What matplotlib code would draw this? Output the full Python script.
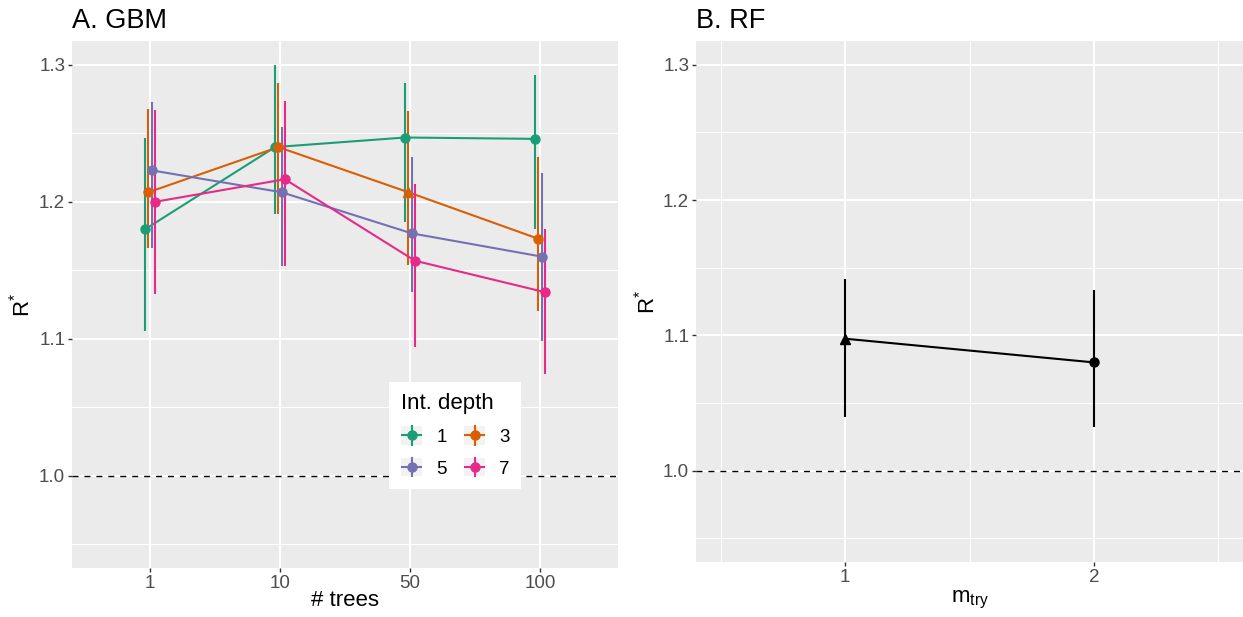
import matplotlib
matplotlib.use("Agg")
import matplotlib.pyplot as plt
from matplotlib.lines import Line2D
from matplotlib.patches import Rectangle
from matplotlib.legend_handler import HandlerBase
import numpy as np

plt.rcParams['font.family'] = ['Liberation Sans', 'DejaVu Sans']
plt.rcParams['mathtext.fontset'] = 'custom'
plt.rcParams['mathtext.rm'] = 'Liberation Sans'
plt.rcParams['mathtext.it'] = 'Liberation Sans'
plt.rcParams['lines.scale_dashes'] = False

# ---------------- data ----------------
trees = ["1", "10", "50", "100"]
depths = ["1", "3", "5", "7"]
depth_colors = ["#1B9E77", "#D95F02", "#7570B3", "#E7298A"]

gbm_mean_d1 = [1.180, 1.240, 1.247, 1.246]
gbm_mean_d3 = [1.207, 1.240, 1.207, 1.173]
gbm_mean_d5 = [1.223, 1.207, 1.177, 1.160]
gbm_mean_d7 = [1.200, 1.2165, 1.157, 1.134]

gbm_lo_d1 = [1.106, 1.191, 1.185, 1.180]
gbm_lo_d3 = [1.166, 1.191, 1.154, 1.120]
gbm_lo_d5 = [1.166, 1.153, 1.134, 1.0985]
gbm_lo_d7 = [1.133, 1.153, 1.094, 1.074]

gbm_hi_d1 = [1.247, 1.300, 1.287, 1.293]
gbm_hi_d3 = [1.268, 1.2865, 1.266, 1.233]
gbm_hi_d5 = [1.273, 1.255, 1.233, 1.221]
gbm_hi_d7 = [1.267, 1.2735, 1.213, 1.180]

gbm_shape_d1 = ["o", "o", "o", "o"]
gbm_shape_d3 = ["o", "o", "^", "o"]
gbm_shape_d5 = ["o", "o", "o", "o"]
gbm_shape_d7 = ["o", "o", "o", "o"]

rf_mtry = [1, 2]
rf_mean = [1.0975, 1.080]
rf_lo = [1.040, 1.032]
rf_hi = [1.1416, 1.1333]
rf_shape = ["^", "o"]

gbm_means = [gbm_mean_d1, gbm_mean_d3, gbm_mean_d5, gbm_mean_d7]
gbm_los = [gbm_lo_d1, gbm_lo_d3, gbm_lo_d5, gbm_lo_d7]
gbm_his = [gbm_hi_d1, gbm_hi_d3, gbm_hi_d5, gbm_hi_d7]
gbm_shapes = [gbm_shape_d1, gbm_shape_d3, gbm_shape_d5, gbm_shape_d7]

# ---------------- style ----------------
W, H = 1243, 617
BG = "#EBEBEB"
LW = 1.5
MS = 6.5
TICK_FS = 13.5
LAB_FS = 16
TITLE_FS = 19.5

fig = plt.figure(figsize=(W / 100, H / 100), dpi=100)
fig.patch.set_facecolor("white")


def px_axes(x0, x1, y0, y1):
    return fig.add_axes([x0 / W, (H - y1) / H, (x1 - x0) / W, (y1 - y0) / H])


def style_axes(ax):
    ax.set_facecolor(BG)
    for s in ax.spines.values():
        s.set_visible(False)
    ax.set_ylim(0.9325, 1.3175)
    ax.set_yticks([1.0, 1.1, 1.2, 1.3])
    ax.set_yticklabels(["1.0", "1.1", "1.2", "1.3"])
    ax.set_yticks([0.95, 1.05, 1.15, 1.25], minor=True)
    ax.grid(True, which="major", color="white", lw=1.5)
    ax.grid(True, which="minor", axis="y", color="white", lw=0.75)
    ax.set_axisbelow(True)
    ax.tick_params(which="major", length=2.9, width=1.0, color="#333333",
                   labelcolor="#4D4D4D", labelsize=TICK_FS, pad=2.0)
    ax.tick_params(which="minor", length=0)
    ax.axhline(1.0, color="black", lw=1.0, ls=(0, (4.3, 4.3)), zorder=1.5)


# ---------------- panel A ----------------
axA = px_axes(72, 618, 41, 568)
style_axes(axA)
axA.set_xlim(0.4, 4.6)
axA.set_xticks([1, 2, 3, 4])
axA.set_xticklabels(trees)
axA.grid(False, which="minor", axis="x")

xpos = np.arange(1, len(trees) + 1)
offsets = [-0.0375, -0.0125, 0.0125, 0.0375]
for i, d in enumerate(depths):
    c = depth_colors[i]
    xs = xpos + offsets[i]
    axA.vlines(xs, gbm_los[i], gbm_his[i], color=c, lw=LW, zorder=3)
    axA.plot(xs, gbm_means[i], color=c, lw=LW, zorder=3)
    for x, y, m in zip(xs, gbm_means[i], gbm_shapes[i]):
        axA.plot([x], [y], marker=m, ms=MS + (0.8 if m == "^" else 0), color=c,
                 ls="none", zorder=4)

axA.set_xlabel("# trees", fontsize=LAB_FS)
axA.xaxis.set_label_coords(0.5, -0.0626)
axA.xaxis.label.set_va("center")
axA.set_ylabel("R$^{*}$", fontsize=LAB_FS)
axA.yaxis.set_label_coords(-0.0916, 0.5)
axA.yaxis.label.set_va("center")

fig.text(72 / W, 1 - 28 / H, "A. GBM", fontsize=TITLE_FS, ha="left", va="baseline")


class KeyHandler(HandlerBase):
    def create_artists(self, legend, orig_handle, xdescent, ydescent, width, height,
                       fontsize, trans):
        c = orig_handle.get_color()
        x0, y0 = -xdescent, -ydescent
        bg = Rectangle((x0, y0), width, height, facecolor="#F2F2F2", edgecolor="none",
                       transform=trans)
        hl = Line2D([x0 + 1, x0 + width - 1], [y0 + height / 2] * 2, color=c, lw=LW,
                    transform=trans)
        vl = Line2D([x0 + width / 2] * 2, [y0, y0 + height], color=c, lw=LW,
                    transform=trans)
        mk = Line2D([x0 + width / 2], [y0 + height / 2], marker="o", ms=MS, color=c,
                    ls="none", transform=trans)
        return [bg, hl, vl, mk]


handles = [Line2D([], [], color=c) for c in depth_colors]
order = [0, 2, 1, 3]
leg = axA.legend([handles[k] for k in order], [depths[k] for k in order],
                 handler_map={Line2D: KeyHandler()}, ncol=2, loc="center",
                 bbox_to_anchor=(0.702, 0.252), fontsize=TICK_FS, title="Int. depth",
                 title_fontsize=LAB_FS, frameon=True, fancybox=False,
                 handlelength=1.15, handleheight=1.15, handletextpad=0.75,
                 columnspacing=0.9, labelspacing=0.65, borderpad=0.6,
                 alignment="left", borderaxespad=0)
leg.get_frame().set_facecolor("white")
leg.get_frame().set_edgecolor("none")
leg.get_frame().set_alpha(1)
leg.set_zorder(10)

# ---------------- panel B ----------------
axB = px_axes(696, 1243, 41, 562)
style_axes(axB)
axB.set_xlim(0.4, 2.6)
axB.set_xticks([1, 2])
axB.set_xticklabels(["1", "2"])
axB.set_xticks([0.5, 1.5, 2.5], minor=True)
axB.grid(True, which="minor", axis="x", color="white", lw=0.75)

axB.vlines(rf_mtry, rf_lo, rf_hi, color="black", lw=LW, zorder=3)
axB.plot(rf_mtry, rf_mean, color="black", lw=LW, zorder=3)
for x, y, m in zip(rf_mtry, rf_mean, rf_shape):
    axB.plot([x], [y], marker=m, ms=MS + (0.8 if m == "^" else 0), color="black",
             ls="none", zorder=4)

axB.set_xlabel(r"m$_{\mathregular{try}}$", fontsize=LAB_FS)
axB.xaxis.set_label_coords(0.5, -0.072)
axB.xaxis.label.set_va("center")
axB.set_ylabel("R$^{*}$", fontsize=LAB_FS)
axB.yaxis.set_label_coords(-0.0896, 0.5)
axB.yaxis.label.set_va("center")

fig.text(696 / W, 1 - 28 / H, "B. RF", fontsize=TITLE_FS, ha="left", va="baseline")

fig.savefig("out.png", dpi=100, facecolor="white")
